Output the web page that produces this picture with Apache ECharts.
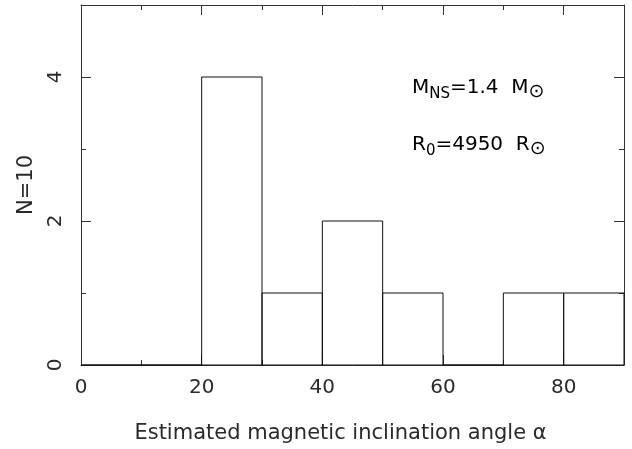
<!DOCTYPE html>
<html>
<head>
<meta charset="utf-8">
<script src="https://cdn.jsdelivr.net/npm/echarts@6/dist/echarts.min.js"></script>
<style>
html,body{margin:0;padding:0;background:#fff;}
#c{width:632px;height:449px;}
</style>
</head>
<body>
<div id="c"></div>
<script>
// Histogram data
const binStarts = [0, 10, 20, 30, 40, 50, 60, 70, 80];
const binEnds   = [10, 20, 30, 40, 50, 60, 70, 80, 90];
const counts    = [0, 0, 4, 1, 2, 1, 0, 1, 1];
const xMajorTicks = [0, 20, 40, 60, 80];
const xMinorTicks = [10, 30, 50, 70];
const yMajorTicks = [0, 2, 4];
const yMinorTicks = [1, 3, 5];
const xTitle = 'Estimated magnetic inclination angle α';
const yTitle = 'N=10';

const FONT = 'DejaVu Sans';
const TXT = '#2a2a2a';
const LINE = '#333';

const chart = echarts.init(document.getElementById('c'), null, {renderer: 'canvas'});

function xAx(pos, ticks, len, withLine, withLabel) {
  return {
    type: 'value', min: 0, max: 90, position: pos,
    axisLine: {show: withLine, onZero: false, lineStyle: {color: LINE, width: 1}},
    axisTick: {show: true, inside: true, length: len, customValues: ticks, lineStyle: {color: LINE, width: 1}},
    axisLabel: withLabel ? {show: true, customValues: ticks, color: TXT, fontFamily: FONT, fontSize: 20, margin: 13} : {show: false},
    splitLine: {show: false},
    name: withLabel ? xTitle : '',
    nameLocation: 'middle', nameGap: 58,
    nameTextStyle: {color: TXT, fontFamily: FONT, fontSize: 21, padding: [0, 24, 0, 0]}
  };
}
function yAx(pos, ticks, len, withLine, withLabel) {
  return {
    type: 'value', min: 0, max: 5, position: pos,
    axisLine: {show: withLine, onZero: false, lineStyle: {color: LINE, width: 1}},
    axisTick: {show: true, inside: true, length: len, customValues: ticks, lineStyle: {color: LINE, width: 1}},
    axisLabel: withLabel ? {show: true, customValues: ticks, rotate: 90, color: TXT, fontFamily: FONT, fontSize: 20, margin: 15} : {show: false},
    splitLine: {show: false},
    name: withLabel ? yTitle : '',
    nameLocation: 'middle', nameGap: 44, nameRotate: 90,
    nameTextStyle: {color: TXT, fontFamily: FONT, fontSize: 21}
  };
}

const histData = binStarts.map((s, i) => [s, binEnds[i], counts[i]]);

const mainStyle = {fontFamily: FONT, fontSize: 20, color: TXT, lineHeight: 28};
const subStyle = {fontFamily: FONT, fontSize: 15, color: TXT, lineHeight: 14, padding: [14, 0, 0, 0], verticalAlign: 'bottom'};
const sunStyle = {fontFamily: FONT, fontSize: 19, color: TXT, lineHeight: 16, padding: [12, 0, 0, 0], verticalAlign: 'bottom'};

chart.setOption({
  animation: false,
  backgroundColor: '#fff',
  grid: {left: 81, right: 8, top: 5, bottom: 83, containLabel: false},
  xAxis: [
    xAx('bottom', xMajorTicks, 10, true, true),
    xAx('bottom', xMinorTicks, 5, false, false),
    xAx('top', xMajorTicks, 10, true, false),
    xAx('top', xMinorTicks, 5, false, false)
  ],
  yAxis: [
    yAx('left', yMajorTicks, 10, true, true),
    yAx('left', yMinorTicks, 5, false, false),
    yAx('right', yMajorTicks, 10, true, false),
    yAx('right', yMinorTicks, 5, false, false)
  ],
  series: [{
    type: 'custom',
    xAxisIndex: 0, yAxisIndex: 0,
    data: histData,
    renderItem: function (params, api) {
      const p0 = api.coord([api.value(0), 0]);
      const p1 = api.coord([api.value(1), api.value(2)]);
      return {
        type: 'rect',
        shape: {x: p0[0], y: p1[1], width: p1[0] - p0[0], height: p0[1] - p1[1]},
        style: {fill: 'none', stroke: '#111', lineWidth: 1}
      };
    }
  }],
  graphic: [
    {
      type: 'text', left: 412, top: 71,
      style: {
        text: '{m|M}{s|NS}{m|=1.4  M}{u|⊙}',
        rich: {m: mainStyle, s: subStyle, u: sunStyle}
      }
    },
    {
      type: 'text', left: 412, top: 128,
      style: {
        text: '{m|R}{s|0}{m|=4950  R}{u|⊙}',
        rich: {m: mainStyle, s: subStyle, u: sunStyle}
      }
    }
  ]
});
</script>
</body>
</html>
